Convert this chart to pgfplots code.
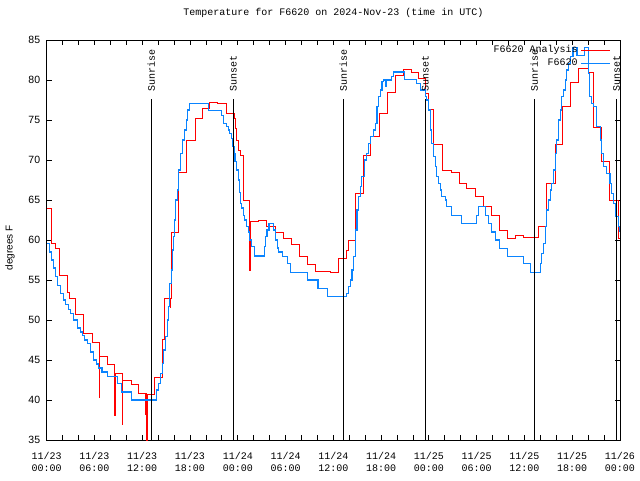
\documentclass[border=0pt]{standalone}
\usepackage{fontspec}
\setmainfont{Liberation Sans}
\setmonofont{Liberation Mono}
\usepackage{pgfplots}
\pgfplotsset{compat=1.18}
\definecolor{obsblue}{RGB}{10,132,255}
\begin{document}
\begin{tikzpicture}
\useasboundingbox (-46.67pt,-40pt) rectangle (593.33pt,440pt);
\begin{axis}[
  scale only axis, width=573.33pt, height=400pt,
  at={(0,0)}, anchor=south west,
  xmin=0, xmax=72, ymin=35, ymax=85,
  axis line style={line width=0.8pt},
  tick align=inside, major tick length=5pt, minor tick length=5pt,
  tick style={black, line width=0.8pt},
  xtick={0,6,...,72},
  minor xtick={2,4,8,10,14,16,20,22,26,28,32,34,38,40,44,46,50,52,56,58,62,64,68,70},
  xticklabels={11/23\\00:00,11/23\\06:00,11/23\\12:00,11/23\\18:00,11/24\\00:00,11/24\\06:00,11/24\\12:00,11/24\\18:00,11/25\\00:00,11/25\\06:00,11/25\\12:00,11/25\\18:00,11/26\\00:00},
  xticklabel style={font=\fontsize{10}{12}\selectfont\ttfamily, align=center, yshift=-9pt},
  ytick={35,40,...,85},
  yticklabel style={font=\fontsize{10.5}{12}\selectfont, xshift=-3pt},
  /pgf/number format/assume math mode=true,
  ylabel={degrees F},
  ylabel style={at={(axis description cs:-0.064,0.48)}, anchor=center, font=\fontsize{10}{12}\selectfont},
  title={Temperature for F6620 on 2024-Nov-23 (time in UTC)},
  title style={at={(axis description cs:0.5,1.0525)}, anchor=center, font=\fontsize{10}{12}\selectfont\ttfamily},
  legend style={draw=none, fill=none, at={(axis description cs:0.984,0.99)}, anchor=north east,
    font=\fontsize{10}{12}\selectfont\ttfamily, row sep=0pt, column sep=3pt, inner sep=0pt,
    nodes={inner sep=0pt, text height=8.5pt, text depth=4.5pt}},
  legend plot pos=right, legend cell align=right,
  legend image code/.code={\draw[#1] (0pt,0pt) -- (29pt,0pt);},
  legend image post style={line width=1.1pt},
]
\addplot[red, line width=1pt, const plot mark left] coordinates {
(0,63.9)(0.65,59.6)(1.05,58.9)(1.65,55.6)(2.65,53.5)(2.9,52.7)(3.6,50.75)(4.65,48.3)(5.7,47.2)(6.6,40.3)(6.65,45.5)(7.7,44.4)(8.5,38.1)(8.55,43.3)(8.62,38.1)(8.67,43.3)(9.5,36.9)(9.57,42.5)(10.7,42.0)(11.5,40.8)(12.42,38.2)(12.47,40.8)(12.55,34)(12.6,40.7)(13.6,42.8)(14.55,47.6)(14.75,52.7)(15.55,51.6)(15.6,52.7)(15.65,61.0)(16.6,68.5)(17.6,72.5)(18.65,75.2)(19.6,76.5)(20.5,77.2)(21.4,77.1)(22.6,75.8)(23.57,75.2)(23.74,74.0)(23.86,72.5)(24.07,71.25)(24.28,70.6)(24.7,67.7)(24.78,65.0)(25.53,56.25)(25.6,62.3)(26.58,62.5)(27.63,61.75)(28.73,61.0)(29.69,60.2)(30.73,59.4)(31.74,57.9)(32.70,56.9)(33.74,56.1)(35.7,56.0)(36.67,57.7)(37.71,58.75)(37.9,60.0)(38.76,65.8)(39.80,70.6)(40.73,72.9)(41.77,75.8)(42.82,78.4)(43.78,80.6)(44.8,81.3)(45.84,81.0)(46.67,80.2)(47.6,78.3)(47.9,76.3)(48.6,71.9)(49.75,68.75)(50.8,68.5)(51.81,67.1)(52.77,66.5)(53.81,65.4)(54.86,64.25)(55.90,63.1)(56.82,61.25)(57.87,60.2)(58.91,60.6)(59.88,60.3)(61.74,61.7)(62.8,67.1)(63.84,72.0)(64.8,76.75)(65.8,79.7)(66.85,81.46)(68.0,81.0)(68.73,74.1)(69.7,69.8)(70.74,65.0)(71.8,60.2)(72,60.2)
};
\addlegendentry{F6620 Analysis}
\addplot[obsblue, line width=1.1pt, const plot mark left] coordinates {
(0,59.6)(0.3,58.5)(0.6,57.5)(0.85,56.5)(1.1,55.4)(1.4,54.3)(1.76,53.3)(2.1,52.5)(2.38,51.9)(2.7,51.3)(3.0,50.8)(3.4,50.0)(3.85,49.0)(4.2,48.5)(4.45,48.1)(4.8,47.5)(5.1,47.1)(5.5,46.0)(5.9,45.0)(6.25,44.5)(6.55,44.0)(6.95,43.5)(7.6,42.9)(8.85,42.1)(9.45,41.0)(10.7,40.0)(13.8,41.25)(14.05,42.1)(14.3,43.3)(14.55,44.6)(14.72,46.25)(14.93,47.9)(15.14,50.0)(15.35,51.7)(15.47,54.6)(15.64,56.25)(15.77,58.75)(15.89,60.4)(16.06,62.5)(16.19,65)(16.39,66.25)(16.6,68.75)(16.81,70.8)(17.02,72.5)(17.31,73.75)(17.52,75)(17.65,76.25)(17.98,77.1)(20.3,76.2)(22.0,75.6)(22.2,74.6)(22.6,74.2)(22.8,73.75)(23.0,73.3)(23.2,72.7)(23.4,71.7)(23.57,70.8)(23.65,69.8)(23.86,68.75)(24.07,67.5)(24.2,65.9)(24.36,64.6)(24.5,64.0)(24.7,63.1)(24.9,62.5)(25.1,61.7)(25.3,61.0)(25.45,60.0)(25.75,59.2)(26.08,58.0)(27.33,59.2)(27.46,60.4)(27.67,61.25)(27.92,62.1)(28.52,61.25)(28.73,60.0)(28.94,59.0)(29.14,58.5)(29.56,57.9)(30.19,57.1)(30.61,55.9)(32.70,55.0)(34.07,53.96)(35.29,52.9)(37.71,53.3)(37.92,54.2)(38.13,55)(38.34,56.25)(38.55,57.9)(38.76,61.25)(38.97,63.75)(39.18,65.4)(39.39,66.7)(39.59,67.9)(39.89,70)(40.22,70.8)(40.43,72.1)(40.64,72.9)(41.06,73.75)(41.27,74.6)(41.48,76.7)(41.69,77.9)(41.90,78.75)(42.11,79.8)(42.31,80)(42.52,79.2)(42.73,80)(43.36,80.4)(43.57,81.0)(44.91,80.1)(46.50,79.6)(46.92,78.75)(47.54,77.9)(47.75,77.5)(47.96,76.25)(48.17,73.75)(48.38,72.1)(48.59,70.4)(48.79,69.2)(49.0,67.9)(49.21,67.1)(49.42,66.25)(49.63,65.4)(50.05,65)(50.26,64.2)(50.89,63.1)(52.14,62.1)(54.02,63.1)(54.23,64.2)(55.07,63.1)(55.49,62.1)(55.91,61.0)(56.33,60)(56.87,58.96)(57.87,57.9)(59.88,57.1)(60.72,55.9)(61.97,57.1)(62.18,58.3)(62.39,59.6)(62.60,61.7)(62.81,63.75)(63.02,65)(63.23,66.25)(63.43,67.1)(63.64,68.75)(63.85,70.8)(64.06,72.5)(64.27,75)(64.48,76.25)(64.69,77.9)(64.90,78.75)(65.11,80)(65.32,81.25)(65.53,82.1)(65.73,82.9)(66.1,84.1)(66.6,83.1)(67.5,84.1)(68.0,80.8)(68.2,77.9)(68.45,77.1)(68.7,76.7)(69.07,74.2)(69.5,72.5)(69.7,70.8)(69.9,69.2)(70.3,68.3)(70.75,67.1)(70.96,65.8)(71.2,64.6)(71.5,62.9)(71.8,61.7)(72,61.0)
};
\addlegendentry{F6620}
\addplot[black, line width=0.9pt, forget plot] coordinates {(13.14,77.6) (13.14,35)};
\addplot[black, line width=0.9pt, forget plot] coordinates {(23.44,77.6) (23.44,35)};
\addplot[black, line width=0.9pt, forget plot] coordinates {(37.25,77.6) (37.25,35)};
\addplot[black, line width=0.9pt, forget plot] coordinates {(47.55,77.6) (47.55,35)};
\addplot[black, line width=0.9pt, forget plot] coordinates {(61.24,77.6) (61.24,35)};
\addplot[black, line width=0.9pt, forget plot] coordinates {(71.58,77.6) (71.58,35)};
\node[rotate=90, anchor=west, inner sep=0pt, font=\fontsize{10}{12}\selectfont\ttfamily] at (axis cs:13.14,78.55) {Sunrise};
\node[rotate=90, anchor=west, inner sep=0pt, font=\fontsize{10}{12}\selectfont\ttfamily] at (axis cs:23.44,78.55) {Sunset};
\node[rotate=90, anchor=west, inner sep=0pt, font=\fontsize{10}{12}\selectfont\ttfamily] at (axis cs:37.25,78.55) {Sunrise};
\node[rotate=90, anchor=west, inner sep=0pt, font=\fontsize{10}{12}\selectfont\ttfamily] at (axis cs:47.55,78.55) {Sunset};
\node[rotate=90, anchor=west, inner sep=0pt, font=\fontsize{10}{12}\selectfont\ttfamily] at (axis cs:61.24,78.55) {Sunrise};
\node[rotate=90, anchor=west, inner sep=0pt, font=\fontsize{10}{12}\selectfont\ttfamily] at (axis cs:71.58,78.55) {Sunset};
\end{axis}
\end{tikzpicture}
\end{document}
